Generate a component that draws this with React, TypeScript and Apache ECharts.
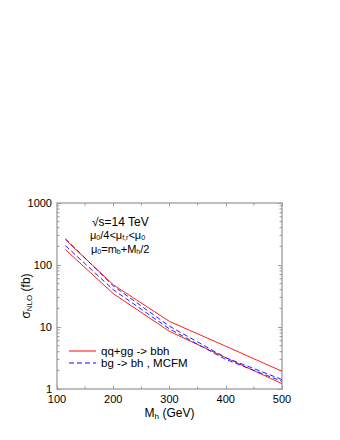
import React, { useEffect, useRef } from "react";
import * as echarts from "echarts";

const massPoints = [115, 200, 300, 400, 500];
const redUpper = [256, 48, 12.3, 4.9, 1.93];
const redLower = [177, 34.5, 8.5, 3.2, 1.22];
const blueUpper = [265, 46, 10.3, 3.2, 1.42];
const blueLower = [205, 40, 9.3, 3.0, 1.33];
const yMinorTicks = [2, 3, 4, 5, 6, 7, 8, 9, 20, 30, 40, 50, 60, 70, 80, 90, 200, 300, 400, 500, 600, 700, 800, 900];
const xMinorTicks = [150, 250, 350, 450];
const legendNames = ["qq+gg -> bbh", "bg -> bh , MCFM"];

const FONT = "Liberation Sans, Arial, Helvetica, sans-serif";
const GRAY = "#999999";

export default function App() {
  const ref = useRef<HTMLDivElement>(null);
  useEffect(() => {
    if (!ref.current) return;
    const chart = echarts.init(ref.current, null, { renderer: "svg" });
    const zip = (ys: number[]) => massPoints.map((x, i) => [x, ys[i]]);
    const tickLen = 2.5;
    chart.setOption({
      animation: false,
      backgroundColor: "#fff",
      grid: {
        left: 49,
        right: 50,
        top: 195,
        bottom: 43,
        outerBoundsMode: "none",
        containLabel: false,
        show: true,
        borderColor: "#aaaaaa",
        borderWidth: 1.5,
        backgroundColor: "transparent",
      },
      xAxis: [
        {
          type: "value",
          min: 100,
          max: 500,
          interval: 100,
          name: "{m|M}{s|h} {m|(GeV)}",
          nameLocation: "middle",
          nameGap: 17,
          nameMoveOverlap: false,
          nameTextStyle: {
            rich: {
              m: { fontFamily: FONT, fontSize: 12, color: "#000" },
              s: { fontFamily: FONT, fontSize: 8, color: "#000", verticalAlign: "bottom", padding: [6, 0, 0, 0] },
            },
          },
          axisLine: { show: false },
          axisTick: { show: true, inside: true, length: 3, lineStyle: { color: GRAY } },
          axisLabel: { fontFamily: FONT, fontSize: 11, color: "#000", margin: 4 },
          splitLine: { show: false },
        },
        {
          type: "value",
          position: "top",
          min: 100,
          max: 500,
          interval: 100,
          axisLine: { show: false },
          axisTick: { show: true, inside: true, length: 3, lineStyle: { color: GRAY } },
          axisLabel: { show: false },
          splitLine: { show: false },
        },
      ],
      yAxis: [
        {
          type: "log",
          logBase: 10,
          min: 1,
          max: 1000,
          name: "{m|σ}{s|NLO} {m|(fb)}",
          nameLocation: "middle",
          nameRotate: 90,
          nameGap: 24,
          nameMoveOverlap: false,
          nameTextStyle: {
            rich: {
              m: { fontFamily: FONT, fontSize: 12, color: "#000" },
              s: { fontFamily: FONT, fontSize: 8, color: "#000", verticalAlign: "bottom", padding: [6, 0, 0, 0] },
            },
          },
          axisLine: { show: false },
          axisTick: { show: true, inside: true, length: 4, lineStyle: { color: GRAY } },
          axisLabel: {
            fontFamily: FONT,
            fontSize: 11,
            color: "#000",
            margin: 5,
            formatter: (v: number) => String(Math.round(v)),
          },
          splitLine: { show: false },
        },
        {
          type: "log",
          logBase: 10,
          min: 1,
          max: 1000,
          position: "right",
          axisLine: { show: false },
          axisTick: { show: true, inside: true, length: 4, lineStyle: { color: GRAY } },
          axisLabel: { show: false },
          splitLine: { show: false },
        },
      ],
      legend: {
        left: 55,
        top: 332,
        orient: "vertical",
        itemGap: 0,
        itemWidth: 27,
        itemHeight: 10,
        data: legendNames,
        itemStyle: { opacity: 0 },
        lineStyle: { width: 2, opacity: 0.55 },
        textStyle: { fontFamily: FONT, fontSize: 11.5, lineHeight: 12, color: "#000" },
      },
      graphic: [
        {
          type: "text",
          left: 84,
          top: 208,
          style: { text: "√s=14 TeV", font: `12px ${FONT}`, fill: "#000" },
        },
        {
          type: "text",
          left: 82,
          top: 221,
          style: {
            text: "{m|μ}{s|0}{m|/4<μ}{s|f,r}{m|<μ}{s|0}",
            rich: {
              m: { fontFamily: FONT, fontSize: 11, fill: "#000" },
              s: { fontFamily: FONT, fontSize: 7, fill: "#000", padding: [5, 0, 0, 0] },
            },
          },
        },
        {
          type: "text",
          left: 83,
          top: 235,
          style: {
            text: "{m|μ}{s|0}{m|=m}{s|b}{m|+M}{s|h}{m|/2}",
            rich: {
              m: { fontFamily: FONT, fontSize: 11, fill: "#000" },
              s: { fontFamily: FONT, fontSize: 7, fill: "#000", padding: [5, 0, 0, 0] },
            },
          },
        },
      ],
      series: [
        {
          name: legendNames[0],
          type: "line",
          data: zip(redUpper),
          symbol: "none",
          lineStyle: { color: "#ff2020", width: 1 },
          itemStyle: { color: "#ff2020" },
        },
        {
          name: legendNames[0],
          type: "line",
          data: zip(redLower),
          symbol: "none",
          lineStyle: { color: "#ff2020", width: 1 },
          itemStyle: { color: "#ff2020" },
        },
        {
          name: legendNames[1],
          type: "line",
          data: zip(blueUpper),
          symbol: "none",
          lineStyle: { color: "#2020ff", width: 1, type: [5, 3] },
          itemStyle: { color: "#2020ff" },
        },
        {
          name: legendNames[1],
          type: "line",
          data: zip(blueLower),
          symbol: "none",
          lineStyle: { color: "#2020ff", width: 1, type: [5, 3] },
          itemStyle: { color: "#2020ff" },
        },
        {
          type: "custom",
          silent: true,
          data: yMinorTicks.map((v) => [100, v]),
          renderItem: (params: any, api: any) => {
            const v = api.value(1);
            const pL = api.coord([100, v]);
            const pR = api.coord([500, v]);
            return {
              type: "group",
              children: [
                { type: "line", shape: { x1: pL[0], y1: pL[1], x2: pL[0] + tickLen, y2: pL[1] }, style: { stroke: GRAY, lineWidth: 1 } },
                { type: "line", shape: { x1: pR[0], y1: pR[1], x2: pR[0] - tickLen, y2: pR[1] }, style: { stroke: GRAY, lineWidth: 1 } },
              ],
            };
          },
        },
        {
          type: "custom",
          silent: true,
          data: xMinorTicks.map((v) => [v, 1]),
          renderItem: (params: any, api: any) => {
            const x = api.value(0);
            const pB = api.coord([x, 1]);
            const pT = api.coord([x, 1000]);
            return {
              type: "group",
              children: [
                { type: "line", shape: { x1: pB[0], y1: pB[1], x2: pB[0], y2: pB[1] - tickLen }, style: { stroke: GRAY, lineWidth: 1 } },
                { type: "line", shape: { x1: pT[0], y1: pT[1], x2: pT[0], y2: pT[1] + tickLen }, style: { stroke: GRAY, lineWidth: 1 } },
              ],
            };
          },
        },
      ],
    });
    return () => chart.dispose();
  }, []);
  return <div ref={ref} style={{ width: 324, height: 424 }} />;
}
